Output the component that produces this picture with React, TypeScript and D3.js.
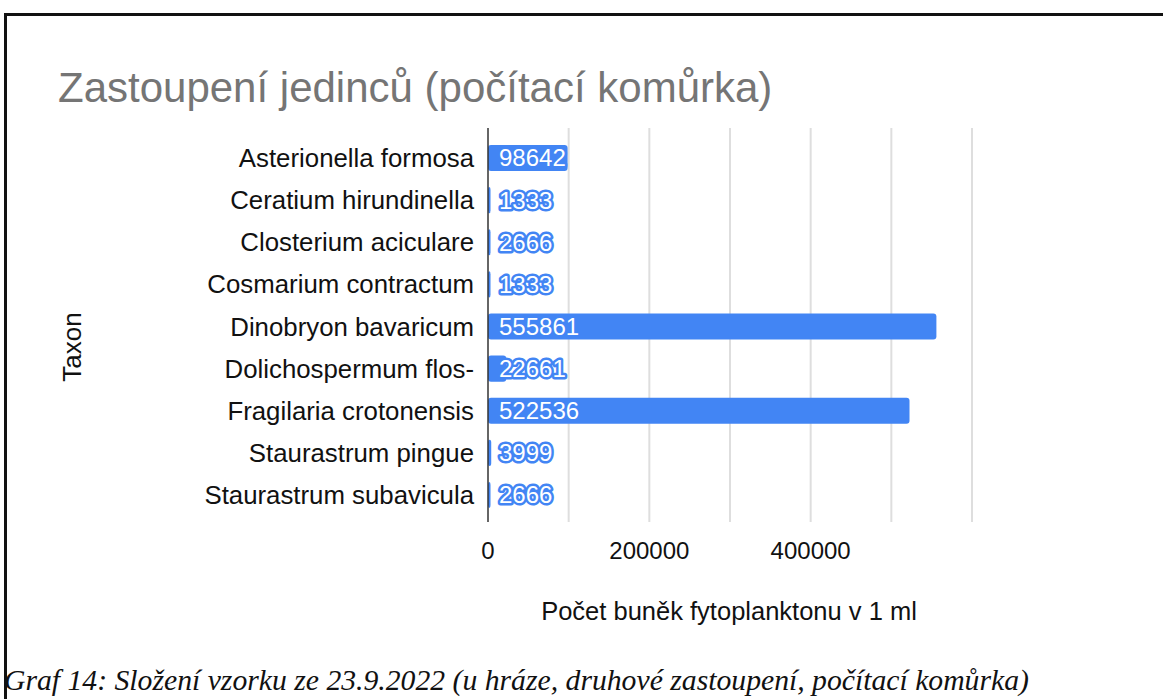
import React, { useEffect, useRef } from 'react';
import * as d3 from 'd3';

const taxa = [
  'Asterionella formosa',
  'Ceratium hirundinella',
  'Closterium aciculare',
  'Cosmarium contractum',
  'Dinobryon bavaricum',
  'Dolichospermum flos-',
  'Fragilaria crotonensis',
  'Staurastrum pingue',
  'Staurastrum subavicula',
];
const counts = [98642, 1333, 2666, 1333, 555861, 22661, 522536, 3999, 2666];
const gridTicks = [0, 100000, 200000, 300000, 400000, 500000, 600000];
const labelTicks = [0, 200000, 400000];

const title = 'Zastoupení jedinců (počítací komůrka)';
const xTitle = 'Počet buněk fytoplanktonu v 1 ml';
const yTitle = 'Taxon';
const caption = 'Graf 14: Složení vzorku ze 23.9.2022 (u hráze, druhové zastoupení, počítací komůrka)';

const App = () => {
  const svgRef = useRef<SVGSVGElement>(null);

  useEffect(() => {
    const width = 1163;
    const height = 699;
    const sans = '"Liberation Sans", Arial, sans-serif';
    const blue = '#4285f4';

    const svg = d3.select(svgRef.current);
    svg.selectAll('*').remove();
    svg.attr('width', width).attr('height', height);

    svg.append('rect').attr('width', width).attr('height', height).attr('fill', '#fff');

    // frame lines
    svg.append('line').attr('x1', 5.5).attr('x2', width).attr('y1', 14.5).attr('y2', 14.5)
      .attr('stroke', '#111').attr('stroke-width', 3);
    svg.append('line').attr('x1', 5.5).attr('x2', 5.5).attr('y1', 13).attr('y2', height)
      .attr('stroke', '#111').attr('stroke-width', 3);

    svg.append('text').attr('x', 58).attr('y', 102)
      .attr('font-family', sans).attr('font-size', 42).attr('fill', '#757575')
      .text(title);

    const x = d3.scaleLinear().domain([0, 600000]).range([488, 972]);
    const y = d3.scaleBand().domain(taxa).range([137, 516]).paddingInner(0.38).paddingOuter(0.19);

    const plotTop = 128;
    const plotBottom = 522;

    svg.append('g').selectAll('line').data(gridTicks.slice(1)).join('line')
      .attr('x1', d => x(d)).attr('x2', d => x(d))
      .attr('y1', plotTop).attr('y2', plotBottom)
      .attr('stroke', '#dedede').attr('stroke-width', 2);

    svg.append('g').selectAll('rect').data(counts).join('rect')
      .attr('x', x(0))
      .attr('y', (d, i) => y(taxa[i])!)
      .attr('width', d => Math.max(2.5, x(d) - x(0)))
      .attr('height', y.bandwidth())
      .attr('rx', 3)
      .attr('fill', blue);

    svg.append('line').attr('x1', x(0)).attr('x2', x(0)).attr('y1', plotTop).attr('y2', plotBottom)
      .attr('stroke', '#333').attr('stroke-width', 1.5);

    svg.append('g').selectAll('text').data(taxa).join('text')
      .attr('x', 474)
      .attr('y', d => y(d)! + y.bandwidth() / 2)
      .attr('dy', '0.35em')
      .attr('text-anchor', 'end')
      .attr('font-family', sans).attr('font-size', 25.8).attr('fill', '#111')
      .text(d => d);

    svg.append('g').selectAll('text').data(counts).join('text')
      .attr('x', x(0) + 11)
      .attr('y', (d, i) => y(taxa[i])! + y.bandwidth() / 2)
      .attr('dy', '0.35em')
      .attr('font-family', sans).attr('font-size', 24)
      .attr('fill', '#fff')
      .attr('stroke', blue).attr('stroke-width', 5).attr('stroke-linejoin', 'round')
      .attr('paint-order', 'stroke')
      .text(d => String(d));

    svg.append('g').selectAll('text').data(labelTicks).join('text')
      .attr('x', d => x(d)).attr('y', 559)
      .attr('text-anchor', 'middle')
      .attr('font-family', sans).attr('font-size', 24).attr('fill', '#111')
      .text(d => String(d));

    svg.append('text').attr('x', 729).attr('y', 620)
      .attr('text-anchor', 'middle')
      .attr('font-family', sans).attr('font-size', 25.5).attr('fill', '#111')
      .text(xTitle);

    svg.append('text')
      .attr('transform', 'translate(81,347) rotate(-90)')
      .attr('text-anchor', 'middle')
      .attr('font-family', sans).attr('font-size', 26).attr('fill', '#111')
      .text(yTitle);

    svg.append('text').attr('x', 4).attr('y', 690)
      .attr('font-family', '"Liberation Serif", "Times New Roman", serif')
      .attr('font-style', 'italic').attr('font-size', 29.7).attr('fill', '#111')
      .text(caption);
  }, []);

  return <svg ref={svgRef} style={{ position: 'absolute', left: 0, top: 0, display: 'block' }}></svg>;
};

export default App;
